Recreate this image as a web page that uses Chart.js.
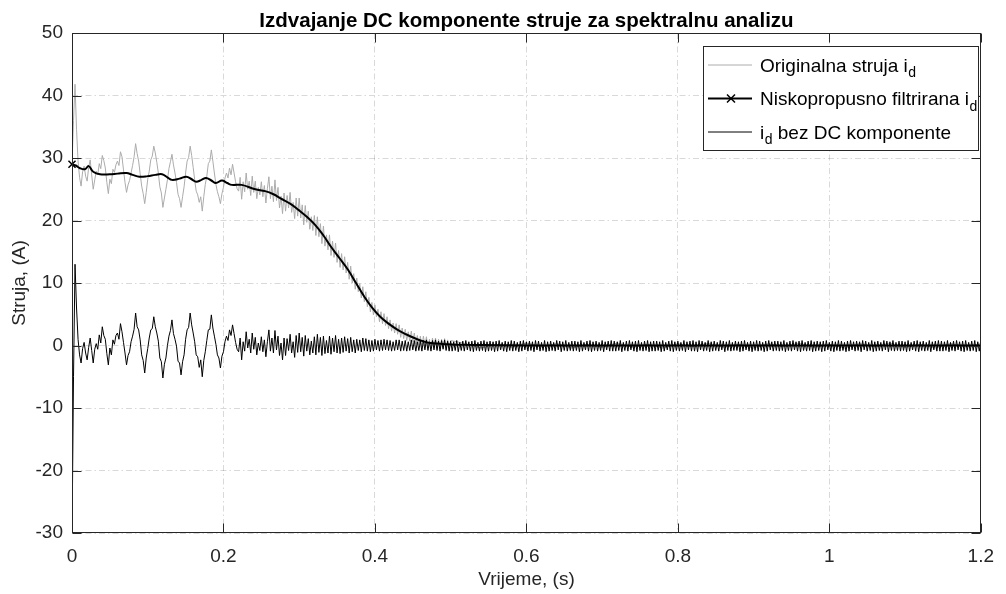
<!DOCTYPE html>
<html>
<head>
<meta charset="utf-8">
<script src="https://cdn.jsdelivr.net/npm/chart.js@4/dist/chart.umd.min.js"></script>
<style>
    html, body { margin: 0; padding: 0; background: #fff; }
    #wrap { width: 1006px; height: 594px; }
</style>
</head>
<body>
<div id="wrap"><canvas id="chart" width="1006" height="594"></canvas></div>
<script>
// axis ticks
const xTicks = [0, 0.2, 0.4, 0.6, 0.8, 1, 1.2];
const yTicks = [-30, -20, -10, 0, 10, 20, 30, 40, 50];

// sample step of the noisy signals (s)
const dt = 0.002;

// i_d bez DC komponente, every dt from t = 0 to 1.2 s
const acValues = [
    // 0 .. 0.218
    -31, -5, 13, 6, 1, -1.5, -2.8, -0.5, 0.5, -1.2,
    -2.3, -0.3, 1.2, -0.8, -2.8, -0.6, 0.3, -0.6, 1.7, 0.4,
    3.0, 1.6, 1.0, -1.3, -3.1, -0.4, -1.5, 0.9, 0.2, 1.6,
    2.0, 1.0, 3.5, 2.2, 0.5, -1.2, -3.1, -1.6, -1.0, 0.6,
    1.5, 2.6, 5.2, 3.0, 2.5, 0.9, -1.5, -2.4, -4.4, -2.0,
    -0.5, 1.2, 2.5, 2.7, 4.6, 3.0, 2.0, 0.7, -2.0, -2.6,
    -5.2, -3.0, -2.0, 0.0, 1.5, 2.4, 4.1, 1.9, 1.0, -0.1,
    -2.5, -2.8, -4.7, -2.6, -1.5, 1.0, 2.5, 2.9, 5.2, 3.3,
    2.0, 0.6, -1.5, -1.8, -3.5, -2.3, -5.0, -2.4, -1.0, 0.8,
    2.5, 2.6, 4.9, 2.8, 1.5, 0.2, -1.5, -2.0, -3.6, -1.7,
    -1.0, 0.6, 1.5, 0.8, 2.5, 1.6, 3.3, 1.9, 0.5, -0.6,
    // 0.22 .. 0.498
    -1.0, 1.2, -2.3, 0.6, -0.9, 2.2, -0.4, 1.0, -1.2, 2.0,
    -0.6, 1.3, -1.5, 0.4, -0.8, 1.4, -1.0, 0.9, -1.8, 0.6,
    2.5, -0.9, 1.2, -1.2, 2.4, -0.7, 1.5, -1.6, 0.4, -2.3,
    1.2, -1.6, 1.1, -0.8, 1.8, -1.2, 0.6, -1.9, 1.6, -1.1,
    2.0, -1.0, 1.3, -1.7, 1.6, -0.9, 1.1, -1.5, 0.7, -1.2,
    1.4, -1.5, 1.8, -1.1, 1.3, -1.6, 1.5, -1.3, 0.8, -1.2,
    1.5, -1.4, 1.2, -1.0, 1.6, -1.2, 1.0, -1.3, 1.2, -1.1,
    1.4, -0.9, 1.1, -1.2, 1.3, -1.0, 0.9, -1.2, 1.0, -0.8,
    0.9, -1.0, 1.2, -0.8, 1.1, -0.9, 0.9, -1.0, 0.8, -0.9,
    1.0, -0.7, 0.8, -0.9, 0.9, -0.8, 1.0, -0.7, 0.9, -0.8,
    0.8, -0.9, 0.6, -0.8, 0.9, -0.7, 0.9, -0.9, 0.7, -0.8,
    0.8, -0.9, 0.6, -0.8, 0.9, -0.7, 0.8, -0.9, 0.6, -0.8,
    0.7, -0.9, 0.8, -0.7, 0.9, -0.8, 0.6, -0.9, 0.8, -0.7,
    0.9, -0.8, 0.7, -0.9, 0.8, -0.6, 0.9, -0.8, 0.7, -0.9,
    // 0.5 .. 1.2
    0.7, -0.9, 0.6, -0.8, 0.8, -1.0, 0.5, -0.8, 0.7, -0.9, 0.8, -0.7, 0.6, -0.9, 0.7, -1.0, 0.8, -0.8, 0.5, -0.9, 0.7, -0.8, 0.8, -1.0, 0.6, -0.9, 0.7,
    -0.8, 0.6, -1.0, 0.7, -0.9, 0.8, -0.7, 0.5, -0.9, 0.7, -1.0, 0.6, -0.8, 0.8, -0.9, 0.7, -0.8, 0.5, -1.0, 0.7, -0.9, 0.8, -0.7, 0.6, -0.9, 0.7, -0.8,
    0.6, -1.0, 0.8, -0.7, 0.7, -0.9, 0.5, -0.8, 0.8, -1.0, 0.6, -0.9, 0.7, -0.8, 0.5, -0.9, 0.8, -0.7, 0.7, -1.0, 0.6, -0.8, 0.8, -0.9, 0.5, -0.8, 0.7,
    -0.9, 0.7, -0.8, 0.6, -1.0, 0.8, -0.9, 0.5, -0.7, 0.7, -0.9, 0.8, -1.0, 0.6, -0.8, 0.7, -0.9, 0.5, -0.8, 0.8, -1.0, 0.6, -0.7, 0.7, -0.9, 0.8, -0.9,
    0.7, -0.9, 0.6, -0.8, 0.8, -1.0, 0.5, -0.8, 0.7, -0.9, 0.8, -0.7, 0.6, -0.9, 0.7, -1.0, 0.8, -0.8, 0.5, -0.9, 0.7, -0.8, 0.8, -1.0, 0.6, -0.9, 0.7,
    -0.9, 0.7, -0.8, 0.6, -1.0, 0.8, -0.9, 0.5, -0.7, 0.7, -0.9, 0.8, -1.0, 0.6, -0.8, 0.7, -0.9, 0.5, -0.8, 0.8, -1.0, 0.6, -0.7, 0.7, -0.9, 0.8, -0.9,
    0.6, -1.0, 0.8, -0.7, 0.7, -0.9, 0.5, -0.8, 0.8, -1.0, 0.6, -0.9, 0.7, -0.8, 0.5, -0.9, 0.8, -0.7, 0.7, -1.0, 0.6, -0.8, 0.8, -0.9, 0.5, -0.8, 0.7,
    -0.8, 0.6, -1.0, 0.7, -0.9, 0.8, -0.7, 0.5, -0.9, 0.7, -1.0, 0.6, -0.8, 0.8, -0.9, 0.7, -0.8, 0.5, -1.0, 0.7, -0.9, 0.8, -0.7, 0.6, -0.9, 0.7, -0.8,
    0.7, -0.9, 0.6, -0.8, 0.8, -1.0, 0.5, -0.8, 0.7, -0.9, 0.8, -0.7, 0.6, -0.9, 0.7, -1.0, 0.8, -0.8, 0.5, -0.9, 0.7, -0.8, 0.8, -1.0, 0.6, -0.9, 0.7,
    -0.8, 0.6, -1.0, 0.7, -0.9, 0.8, -0.7, 0.5, -0.9, 0.7, -1.0, 0.6, -0.8, 0.8, -0.9, 0.7, -0.8, 0.5, -1.0, 0.7, -0.9, 0.8, -0.7, 0.6, -0.9, 0.7, -0.8,
    0.6, -1.0, 0.8, -0.7, 0.7, -0.9, 0.5, -0.8, 0.8, -1.0, 0.6, -0.9, 0.7, -0.8, 0.5, -0.9, 0.8, -0.7, 0.7, -1.0, 0.6, -0.8, 0.8, -0.9, 0.5, -0.8, 0.7,
    -0.9, 0.7, -0.8, 0.6, -1.0, 0.8, -0.9, 0.5, -0.7, 0.7, -0.9, 0.8, -1.0, 0.6, -0.8, 0.7, -0.9, 0.5, -0.8, 0.8, -1.0, 0.6, -0.7, 0.7, -0.9, 0.8, -0.9,
    0.7, -0.9, 0.6, -0.8, 0.8, -1.0, 0.5, -0.8, 0.7, -0.9, 0.8, -0.7, 0.6, -0.9, 0.7, -1.0, 0.8, -0.8, 0.5, -0.9, 0.7, -0.8, 0.8, -1.0, 0.6, -0.9, 0.7
];

// originalna struja, every dt from t = 0 to 0.5 s
const origValues = [
    29.0, 36.0, 41.8, 34.6, 29.5, 26.9, 25.5, 27.8, 28.7, 27.1,
    26.3, 28.5, 29.7, 27.3, 25.0, 26.5, 27.9, 27.3, 29.1, 28.3,
    30.4, 29.6, 28.4, 26.1, 24.3, 26.6, 25.9, 28.2, 27.7, 28.9,
    29.5, 28.8, 31.0, 30.2, 28.1, 26.1, 24.5, 25.7, 26.4, 27.6,
    28.8, 30.2, 32.3, 30.7, 29.5, 27.5, 25.5, 24.3, 22.7, 24.5,
    26.6, 27.9, 29.7, 30.3, 31.9, 30.8, 29.3, 27.6, 25.4, 24.4,
    22.1, 23.6, 25.0, 26.5, 28.3, 29.4, 30.6, 28.9, 27.6, 26.1,
    24.2, 23.5, 22.1, 23.8, 25.4, 27.6, 29.5, 30.1, 31.9, 30.4,
    28.5, 26.5, 24.7, 24.1, 22.9, 23.8, 21.5, 23.8, 25.8, 27.1,
    29.1, 29.5, 31.3, 29.5, 27.6, 25.8, 24.6, 23.8, 22.7, 24.3,
    25.3, 26.8, 27.6, 26.8, 28.4, 27.3, 29.0, 27.6, 26.2, 25.1,
    24.7, 26.9, 23.4, 26.2, 24.6, 27.6, 25.0, 26.3, 24.0, 27.1,
    24.5, 26.3, 23.5, 25.3, 24.1, 26.2, 23.8, 25.6, 22.8, 25.1,
    27.0, 23.5, 25.5, 23.0, 26.5, 23.2, 25.3, 22.0, 23.9, 21.1,
    24.4, 21.5, 24.0, 22.0, 24.5, 21.3, 22.9, 20.3, 23.6, 20.7,
    23.6, 20.4, 22.5, 19.3, 22.4, 19.7, 21.5, 18.6, 20.6, 18.4,
    20.8, 17.6, 20.6, 17.4, 19.5, 16.3, 19.1, 15.9, 17.7, 15.3,
    17.7, 14.4, 16.7, 14.1, 16.4, 13.3, 15.2, 12.5, 14.7, 12.1,
    14.2, 11.6, 13.3, 10.6, 12.7, 10.0, 11.5, 9.0, 10.8, 8.6,
    9.9, 7.6, 9.4, 7.0, 8.6, 6.2, 7.7, 5.4, 6.9, 4.9,
    6.5, 4.6, 5.8, 3.8, 5.4, 3.5, 5.1, 3.2, 4.6, 2.7,
    4.1, 2.3, 3.6, 2.0, 3.5, 1.8, 3.3, 1.3, 2.8, 1.1,
    2.6, 0.8, 2.2, 0.7, 2.3, 0.6, 2.0, 0.2, 1.6, 0.1,
    1.5, -0.2, 1.5, -0.1, 1.4, -0.3, 1.0, -0.5, 1.2, -0.4,
    1.2, -0.5, 1.0, -0.6, 1.0, -0.4, 1.1, -0.6, 0.9, -0.7,
    0.8
];
// originalna struja after 0.5 s (lies under the black band)
const origTailStart = 0.52;
const origTailStep = 0.02;
const origTail = [
    0.3, -0.4, 0.2, -0.3, 0.4, -0.2, 0.3, -0.4, 0.2, -0.3,
    0.4, -0.3, 0.2, -0.4, 0.3, -0.2, 0.4, -0.3, 0.2, -0.4,
    0.3, -0.2, 0.4, -0.3, 0.2, -0.4, 0.3, -0.2, 0.4, -0.3,
    0.2, -0.4, 0.3, -0.2, 0.3
];

// niskopropusno filtrirana struja
const filtT = [0, 0.005, 0.01, 0.017, 0.022, 0.028, 0.037, 0.05, 0.06, 0.072,
    0.08, 0.089, 0.1, 0.11, 0.119, 0.126, 0.132, 0.142, 0.151, 0.158,
    0.164, 0.171, 0.177, 0.184, 0.19, 0.198, 0.205, 0.211, 0.224, 0.242,
    0.255, 0.266, 0.276, 0.288, 0.299, 0.31, 0.321, 0.332, 0.342, 0.353,
    0.364, 0.375, 0.386, 0.396, 0.407, 0.418, 0.43, 0.441, 0.452, 0.463,
    0.473, 0.485, 0.495, 0.52, 0.56, 0.6, 0.8, 1.0, 1.2];
const filtI = [29.0, 28.8, 28.4, 28.2, 28.7, 27.8, 27.4, 27.4, 27.5, 27.6,
    27.3, 27.0, 27.1, 27.3, 27.4, 26.9, 26.5, 26.7, 27.0, 26.6,
    26.2, 26.5, 26.8, 26.4, 26.0, 26.4, 26.0, 25.7, 25.7, 25.0,
    24.7, 24.2, 23.5, 22.7, 21.7, 20.6, 19.3, 17.6, 15.8, 14.0,
    12.2, 10.0, 7.8, 6.1, 4.6, 3.5, 2.5, 1.8, 1.2, 0.7,
    0.4, 0.3, 0.2, 0.1, 0.05, 0, 0, 0, 0];

const legendRows = [
    { text: "Originalna struja i", sub: "d", after: "" },
    { text: "Niskopropusno filtrirana i", sub: "d", after: "" },
    { text: "i", sub: "d", after: " bez DC komponente" }
];

const FONT = '"Liberation Sans", Arial, Helvetica, sans-serif';
const INK = "#262626";
const GRAY = "rgb(172,172,172)";

const acPoints = acValues.map((v, i) => ({ x: i * dt, y: v }));
const origPoints = origValues.map((v, i) => ({ x: i * dt, y: v }))
    .concat(origTail.map((v, i) => ({ x: origTailStart + i * origTailStep, y: v })));
const filtPoints = filtT.map((t, i) => ({ x: t, y: filtI[i] }));


// frame, inward ticks, legend and texts (MATLAB look)
const framePlugin = {
    id: "frame",
    afterDraw(chart) {
        const { ctx, chartArea: a, scales } = chart;
        const L = Math.round(a.left) + 0.5, R = Math.round(a.right) - 0.5;
        const T = Math.round(a.top) + 0.5, B = Math.round(a.bottom) - 0.5;
        ctx.save();

        ctx.strokeStyle = INK;
        ctx.lineWidth = 1;
        ctx.strokeRect(L, T, R - L, B - T);

        ctx.beginPath();
        xTicks.forEach(v => {
            const px = Math.round(scales.x.getPixelForValue(v)) + 0.5;
            ctx.moveTo(px, B); ctx.lineTo(px, B - 9);
            ctx.moveTo(px, T); ctx.lineTo(px, T + 9);
        });
        yTicks.forEach(v => {
            const py = Math.round(scales.y.getPixelForValue(v)) + 0.5;
            ctx.moveTo(L, py); ctx.lineTo(L + 9, py);
            ctx.moveTo(R, py); ctx.lineTo(R - 9, py);
        });
        ctx.stroke();

        // title
        ctx.fillStyle = "#000";
        ctx.textAlign = "center";
        ctx.textBaseline = "alphabetic";
        ctx.font = "bold 20.5px " + FONT;
        ctx.fillText("Izdvajanje DC komponente struje za spektralnu analizu", (L + R) / 2, 26.5);

        // axis titles
        ctx.fillStyle = INK;
        ctx.font = "19px " + FONT;
        ctx.fillText("Vrijeme, (s)", (L + R) / 2, 585);
        ctx.save();
        ctx.translate(25, (T + B) / 2);
        ctx.rotate(-Math.PI / 2);
        ctx.fillText("Struja, (A)", 0, 0);
        ctx.restore();

        // legend
        const bx = 703.5, by = 46.5, bw = 275, bh = 104;
        ctx.fillStyle = "#fff";
        ctx.fillRect(bx, by, bw, bh);
        ctx.strokeStyle = INK;
        ctx.strokeRect(bx, by, bw, bh);

        const rowY = [65, 98.5, 132];
        const styles = [
            { color: GRAY, width: 1, marker: false },
            { color: "#000", width: 2, marker: true },
            { color: "#000", width: 1, marker: false }
        ];
        legendRows.forEach((row, i) => {
            const y = rowY[i], st = styles[i];
            ctx.strokeStyle = st.color;
            ctx.lineWidth = st.width;
            ctx.beginPath();
            ctx.moveTo(708, y); ctx.lineTo(752, y);
            ctx.stroke();
            if (st.marker) {
                ctx.lineWidth = 1.5;
                ctx.beginPath();
                ctx.moveTo(727, y - 4); ctx.lineTo(735, y + 4);
                ctx.moveTo(727, y + 4); ctx.lineTo(735, y - 4);
                ctx.stroke();
            }
            ctx.fillStyle = "#000";
            ctx.textAlign = "left";
            ctx.font = "19px " + FONT;
            let x = 760;
            ctx.fillText(row.text, x, y + 6.5);
            x += ctx.measureText(row.text).width + 0.5;
            ctx.font = "14px " + FONT;
            ctx.fillText(row.sub, x, y + 12);
            x += ctx.measureText(row.sub).width;
            ctx.font = "19px " + FONT;
            ctx.fillText(row.after, x, y + 6.5);
        });

        ctx.restore();
    }
};

new Chart(document.getElementById("chart"), {
    type: "line",
    data: {
        datasets: [
            {
                label: "i_d bez DC komponente",
                data: acPoints,
                borderColor: "#000",
                borderWidth: 1,
                pointRadius: 0
            },
            {
                label: "Niskopropusno filtrirana i_d",
                data: filtPoints,
                borderColor: "#000",
                borderWidth: 2,
                tension: 0.4,
                pointStyle: "crossRot",
                pointRadius: ctx => ctx.dataIndex === 0 ? 5 : 0,
                pointBorderWidth: 1.5,
                pointBorderColor: "#000",
                clip: false
            },
            {
                label: "Originalna struja i_d",
                data: origPoints,
                borderColor: GRAY,
                borderWidth: 1,
                pointRadius: 0
            }
        ]
    },
    options: {
        responsive: false,
        animation: false,
        devicePixelRatio: 1,
        layout: { padding: { top: 33, right: 18, left: 0, bottom: 0 } },
        plugins: {
            legend: { display: false },
            tooltip: { enabled: false }
        },
        scales: {
            x: {
                type: "linear",
                min: 0,
                max: 1.2,
                afterFit: s => { s.height = 61; },
                afterBuildTicks: s => { s.ticks = xTicks.map(v => ({ value: v })); },
                grid: { color: "rgba(0,0,0,0.15)", drawTicks: false },
                border: { display: false, dash: [6, 3, 1.5, 3] },
                ticks: {
                    padding: 12,
                    maxRotation: 0,
                    color: INK,
                    font: { family: FONT, size: 19 },
                    callback: v => String(v)
                }
            },
            y: {
                type: "linear",
                min: -30,
                max: 50,
                afterFit: s => { s.width = 72; },
                afterBuildTicks: s => { s.ticks = yTicks.map(v => ({ value: v })); },
                grid: { color: "rgba(0,0,0,0.15)", drawTicks: false },
                border: { display: false, dash: [6, 3, 1.5, 3] },
                ticks: {
                    padding: 9,
                    color: INK,
                    font: { family: FONT, size: 19 },
                    callback: v => String(v)
                }
            }
        }
    },
    plugins: [framePlugin]
});
</script>
</body>
</html>
